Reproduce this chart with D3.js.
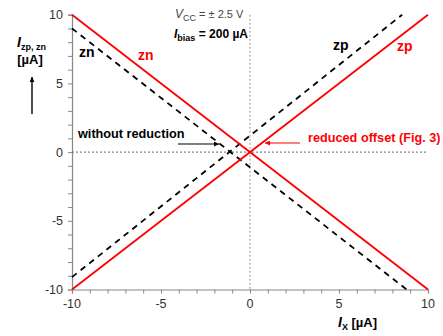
<!DOCTYPE html>
<html><head><meta charset="utf-8">
<script src="https://cdn.jsdelivr.net/npm/d3@7"></script>
<style>
body{margin:0;background:#fff;}
text{font-family:"Liberation Sans",Arial,sans-serif;}
</style></head>
<body><svg id="c" width="443" height="336"></svg>
<script>
const xTicks = [-10, -5, 0, 5, 10];
const yTicks = [-10, -5, 0, 5, 10];
const minorTicks = d3.range(-10, 11, 1);
// Ix values and currents
const redZpX = [-10, 10];
const redZpY = [-10, 10];
const redZnX = [-10, 10];
const redZnY = [10, -10];
const blackZpX = [-10, 8.55];
const blackZpY = [-9.1, 10];
const blackZnX = [-10, 8.8];
const blackZnY = [9.0, -10];

const svg = d3.select("#c");
const x = d3.scaleLinear().domain([-10, 10]).range([72, 428]);
const y = d3.scaleLinear().domain([-10, 10]).range([289.5, 14.7]);

// axes
const ax = svg.append("g").attr("transform", "translate(0,289.5)")
  .call(d3.axisBottom(x).tickValues(minorTicks).tickSize(4).tickFormat(""));
const ay = svg.append("g").attr("transform", "translate(72,0)")
  .call(d3.axisLeft(y).tickValues(minorTicks).tickSize(4).tickFormat(""));
[ax, ay].forEach(g => {
  g.select(".domain").attr("stroke", "#888").attr("stroke-width", 1.2);
  g.selectAll(".tick line").attr("stroke", "#888");
});
svg.selectAll(".xl").data(xTicks).join("text")
  .attr("x", d => x(d)).attr("y", 308).attr("text-anchor", "middle")
  .attr("font-size", 12.5).attr("fill", "#333").text(d => d);
svg.selectAll(".yl").data(yTicks).join("text")
  .attr("x", 63).attr("y", d => y(d) + 4.5).attr("text-anchor", "end")
  .attr("font-size", 12.5).attr("fill", "#333").text(d => d);

// reference dotted lines
svg.append("line").attr("x1", x(0)).attr("x2", x(0)).attr("y1", y(10)).attr("y2", y(-10))
  .attr("stroke", "#aaa").attr("stroke-width", 1.2).attr("stroke-dasharray", "2,2");
svg.append("line").attr("x1", x(-10)).attr("x2", x(10)).attr("y1", y(0)).attr("y2", y(0))
  .attr("stroke", "#666").attr("stroke-width", 1).attr("stroke-dasharray", "2,2");

const line = d3.line().x(d => x(d[0])).y(d => y(d[1]));
function draw(xs, ys, color, dash) {
  svg.append("path").attr("d", line(xs.map((v, i) => [v, ys[i]])))
    .attr("fill", "none").attr("stroke", color).attr("stroke-width", 1.8)
    .attr("stroke-dasharray", dash || null);
}
draw(blackZpX, blackZpY, "#000", "6,5");
draw(blackZnX, blackZnY, "#000", "6,5");
draw(redZpX, redZpY, "#f00");
draw(redZnX, redZnY, "#f00");

// defs arrows
const defs = svg.append("defs");
[["ab", "#000"], ["ar", "#f00"]].forEach(([id, c]) => {
  defs.append("marker").attr("id", id).attr("viewBox", "0 0 10 10").attr("refX", 10).attr("refY", 5)
    .attr("markerWidth", 9).attr("markerHeight", 5).attr("orient", "auto").attr("markerUnits", "userSpaceOnUse")
    .append("path").attr("d", "M0,0L10,5L0,10z").attr("fill", c);
});

// labels
function t(xp, yp, str, opts) {
  const e = svg.append("text").attr("x", xp).attr("y", yp).attr("font-size", opts.size || 13)
    .attr("font-weight", opts.w || "bold").attr("fill", opts.c || "#000");
  if (opts.a) e.attr("text-anchor", opts.a);
  if (Array.isArray(str)) str.forEach(s => {
    const ts = e.append("tspan").text(s[0]);
    if (s[1]) ts.attr("font-size", s[1]);
    if (s[2]) ts.attr("dy", s[2]);
    if (s[3]) ts.attr("font-style", s[3]);
  }); else e.text(str);
  return e;
}
t(79, 57, "zn", {size: 14});
t(138, 60, "zn", {size: 14, c: "#f00"});
t(333, 50, "zp", {size: 14});
t(397, 50.5, "zp", {size: 14, c: "#f00"});
t(78, 138, "without reduction", {size: 12.7});
t(308, 142, "reduced offset (Fig. 3)", {size: 12.7, c: "#f00"});
svg.append("line").attr("x1", 178).attr("y1", 144).attr("x2", 219).attr("y2", 144)
  .attr("stroke", "#000").attr("stroke-width", 1.2).attr("marker-end", "url(#ab)");
svg.append("line").attr("x1", 300).attr("y1", 143).attr("x2", 265).attr("y2", 143)
  .attr("stroke", "#f00").attr("stroke-width", 1.2).attr("marker-end", "url(#ar)");

// VCC and Ibias
t(175, 18, [["V", 12, null, "italic"], ["CC", 9, 3], [" = \u00b1 2.5 V", 11, -3]], {w: "normal", c: "#444"});
t(174, 38, [["I", 12, null, "italic"], ["bias", 9, 3], [" = 200 \u00b5A", 12, -3]], {});

// Y axis label
t(17, 47, [["I", 14, null, "italic"], ["zp, zn", 9, 3]], {});
t(30, 64, "[\u00b5A]", {size: 13, a: "middle"});
svg.append("line").attr("x1", 32).attr("y1", 114).attr("x2", 32).attr("y2", 77)
  .attr("stroke", "#000").attr("stroke-width", 1.4).attr("marker-end", "url(#ab)");

// X axis label
t(338, 327, [["I", 14, null, "italic"], ["X", 9, 3], [" [\u00b5A]", 13, -3]], {});
</script></body></html>
